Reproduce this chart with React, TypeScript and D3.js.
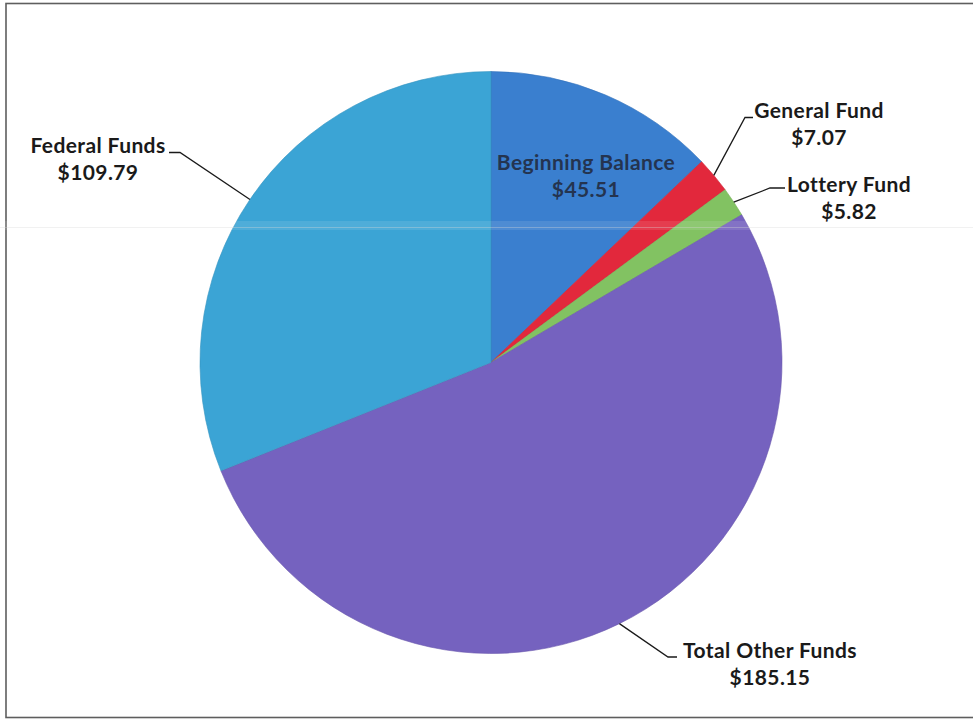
import { useEffect, useRef } from 'react';
import * as d3 from 'd3';

const categories = ['Beginning Balance', 'General Fund', 'Lottery Fund', 'Total Other Funds', 'Federal Funds'];
const values = [45.51, 7.07, 5.82, 185.15, 109.79];
const valueLabels = ['$45.51', '$7.07', '$5.82', '$185.15', '$109.79'];
const colors = ['#3a7fcf', '#e2283c', '#82c262', '#7562bf', '#3ba4d5'];

const App = () => {
  const svgRef = useRef<SVGSVGElement | null>(null);

  const width = 973;
  const height = 721;
  const cx = 491;
  const cy = 362.5;
  const radius = 291;

  useEffect(() => {
    const svgElement = svgRef.current;
    if (!svgElement) return;

    const svg = d3.select(svgElement);
    svg.selectAll('*').remove();

    svg.append('rect')
      .attr('width', width)
      .attr('height', height)
      .attr('fill', '#fff');

    // chart frame
    svg.append('rect')
      .attr('x', 6)
      .attr('y', 3.5)
      .attr('width', width + 10)
      .attr('height', 714)
      .attr('fill', 'none')
      .attr('stroke', '#5e5e5e')
      .attr('stroke-width', 1.6);

    const data = categories.map((name, i) => ({ name, value: values[i], label: valueLabels[i], color: colors[i] }));
    type Datum = typeof data[number];

    const pie = d3.pie<Datum>().value(d => d.value).sort(null);
    const arcs = pie(data);
    const arc = d3.arc<d3.PieArcDatum<Datum>>().innerRadius(0).outerRadius(radius);

    const g = svg.append('g').attr('transform', `translate(${cx},${cy})`);

    g.selectAll('path.slice')
      .data(arcs)
      .join('path')
      .attr('class', 'slice')
      .attr('d', arc)
      .attr('fill', d => d.data.color)
      .attr('stroke', d => d3.color(d.data.color)!.darker(0.3).formatHex())
      .attr('stroke-width', 0.6);

    // faint scanner streak across the page
    svg.append('rect')
      .attr('x', 0)
      .attr('y', 221)
      .attr('width', width)
      .attr('height', 9)
      .attr('fill', '#fff')
      .attr('opacity', 0.1);
    svg.append('line')
      .attr('x1', 0)
      .attr('x2', width)
      .attr('y1', 227.5)
      .attr('y2', 227.5)
      .attr('stroke', '#d8d8d8')
      .attr('stroke-width', 1)
      .attr('opacity', 0.35);

    const font = 'Lato, "Open Sans", sans-serif';

    // label layout: elbow point relative to center, text baseline point relative to center
    const layout: Record<string, { elbow?: [number, number]; tail?: number; text: [number, number]; inside?: boolean }> = {
      'Beginning Balance': { text: [95, -192.5], inside: true },
      'General Fund': { elbow: [254, -245], tail: 8, text: [328, -245] },
      'Lottery Fund': { elbow: [279, -174.5], tail: 15, text: [358, -171] },
      'Total Other Funds': { elbow: [177, 294.5], tail: 9, text: [279, 295] },
      'Federal Funds': { elbow: [-311, -210], tail: -11, text: [-393, -209.5] },
    };

    arcs.forEach(a => {
      const L = layout[a.data.name];
      const mid = (a.startAngle + a.endAngle) / 2;
      const px = radius * Math.sin(mid);
      const py = -radius * Math.cos(mid);

      if (L.elbow) {
        const [ex, ey] = L.elbow;
        g.append('path')
          .attr('d', d3.line()([[px, py], [ex, ey], [ex + (L.tail ?? 0), ey]]))
          .attr('fill', 'none')
          .attr('stroke', '#1a1a1a')
          .attr('stroke-width', 1.3);
      }

      const t = g.append('text')
        .attr('x', L.text[0])
        .attr('y', L.text[1])
        .attr('text-anchor', 'middle')
        .attr('font-family', font)
        .attr('font-weight', 700)
        .attr('font-size', 21)
        .attr('letter-spacing', 0.4)
        .attr('fill', L.inside ? '#243450' : '#1a1a1a');
      t.append('tspan')
        .attr('x', L.text[0])
        .text(a.data.name);
      t.append('tspan')
        .attr('x', L.text[0])
        .attr('dy', 27)
        .text(a.data.label);
    });
  }, []);

  return (
    <svg
      ref={svgRef}
      width={width}
      height={height}
      style={{ position: 'absolute', left: 0, top: 0, display: 'block' }}
    />
  );
};

export default App;
